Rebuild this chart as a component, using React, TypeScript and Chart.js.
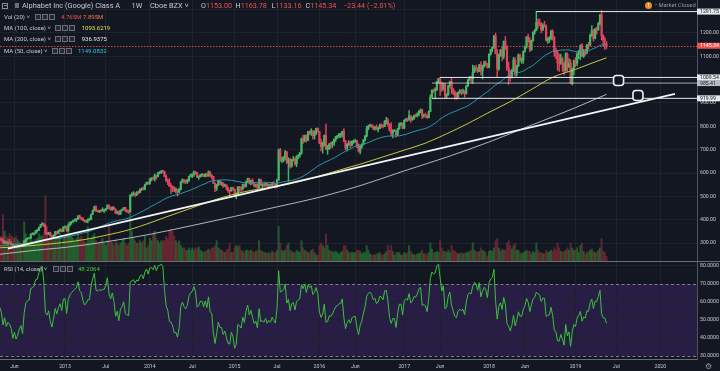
import React, { useEffect, useRef } from "react";
import { Chart, registerables } from "chart.js";

Chart.register(...registerables);

const FONT = "Roboto, 'Liberation Sans', Arial, sans-serif";
const BG = "#131722";
const GRID = "#1e222d";
const TEXT = "#c8cbd3";
const AXIS_LINE = "#50535e";
const SEP = "#6a6d78";
const UP = "#45b866";
const DOWN = "#e3455c";
const UP_VOL = "rgba(40, 135, 50, 0.6)";
const DOWN_VOL = "rgba(150, 45, 60, 0.6)";
const RED = "#ef5350";
const MA50_COLOR = "#2b9db0";
const MA100_COLOR = "#c8c93c";
const MA200_COLOR = "#b4b6bc";
const RSI_COLOR = "#3cc23c";

// ---- weekly bars, index 0 = week of 26 Mar 2012 ----
// closes of the 51 weeks before the first bar (warm-up for MA50 / RSI)
const preCloses = [289,265,263,272,267,265,262,260,262,255,242,237,253,265,299,309,301,289,282,245,263,262,262,273,263,257,258,296,295,300,298,304,297,281,310,314,312,317,323,325,312,293,290,298,303,303,305,311,312,313,321];

// [open, high, low, close]
const ohlc2012 = [
[321,325,317,320],[320,324,313,316],[316,319,308,312],[312,322,298,300],[300,309,297,307],
[307,309,296,298],[298,306,295,302],[302,316,299,300],[300,307,291,296],[296,298,283,285],
[285,291,280,290],[290,294,278,282],[282,292,281,285],[285,291,281,290],[290,297,287,293],
[293,294,283,285],[285,312,284,305],[305,318,300,317],[317,322,313,320],[320,323,317,321],
[321,339,320,338],[338,344,335,339],[339,344,334,342],[342,354,339,353],[353,358,346,354],
[354,368,353,367],[367,380,365,377],[377,387,376,383],[383,385,370,372],[372,379,338,341],
[341,346,335,338],[338,346,336,344],[344,347,330,331],[331,334,318,323],[323,335,321,334],
[334,350,332,349],[349,350,337,342],[342,355,341,352],[352,361,350,358],[358,360,347,350],
[350,370,349,369]];
const ohlc2013 = [
[369,372,364,370],[370,372,350,352],[352,378,350,377],[377,390,372,387],[387,393,380,392],
[392,398,388,396],[396,404,394,399],[399,405,392,403],[403,418,400,416],[416,420,406,407],
[407,411,399,405],[405,408,396,397],[397,400,389,392],[392,396,388,395],[395,404,386,400],
[400,407,396,400],[400,424,400,423],[423,441,422,440],[440,458,438,454],[454,460,434,437],
[437,441,433,436],[436,440,430,439],[439,442,432,438],[438,451,435,440],[440,443,431,440],
[440,449,438,447],[447,464,446,462],[462,464,445,448],[448,454,440,443],[443,456,440,453],
[453,456,443,445],[445,447,427,428],[428,437,425,435],[435,437,420,423],[423,441,423,440],
[440,446,437,444],[444,453,442,452],[452,453,435,438],[438,443,430,436],[436,441,427,435],
[435,506,432,505],[505,516,500,508],[508,520,504,512],[512,515,497,508],[508,520,503,517],
[517,523,510,516],[516,532,515,530],[530,537,525,534],[534,540,527,530],[530,552,528,550],
[550,561,549,560],[560,562,552,555]];
const ohlc2014 = [
[555,575,551,575],[575,580,566,577],[577,583,570,575],[575,596,565,590],[590,591,574,585],
[585,602,583,601],[601,606,596,604],[604,610,598,608],[608,613,600,606],[606,607,584,585],
[585,592,565,566],[566,575,550,560],[560,576,541,544],[544,555,511,543],[543,545,520,537],
[537,541,520,526],[526,536,515,527],[527,530,502,519],[519,535,515,530],[530,563,528,562],
[562,575,560,571],[571,573,555,565],[565,570,556,562],[562,573,555,568],[568,587,564,585],
[585,595,583,592],[592,596,580,594],[594,608,585,605],[605,607,594,600],[600,603,580,582],
[582,588,573,585],[585,594,582,592],[592,597,585,592],[592,595,584,586],[586,599,583,595],
[595,597,583,588],[588,609,586,605],[605,606,583,588],[588,593,575,585],[585,586,555,556],
[556,557,520,535],[535,551,525,549],[549,569,546,567],[567,570,550,557],[557,561,546,557],
[557,558,538,544],[544,553,542,549],[549,549,527,536],[536,540,517,524],[524,528,497,523],
[523,539,522,538],[538,540,526,530]];
const ohlc2015 = [
[530,532,500,505],[505,515,490,510],[510,542,506,540],[540,543,521,537],[537,541,521,533],
[533,552,526,551],[551,553,538,542],[542,565,540,563],[563,578,559,575],[575,578,553,559],
[559,569,549,568],[568,575,552,556],[556,558,540,545],[545,552,539,549],[549,555,534,537],
[537,575,534,573],[573,574,547,548],[548,555,535,550],[550,556,540,547],[547,558,543,554],
[554,556,541,545],[545,553,540,550],[550,553,538,547],[547,560,545,555],[555,563,548,550],
[550,552,535,546],[546,574,537,570],[570,703,568,699],[699,705,650,654],[654,668,644,657],
[657,671,648,664],[664,697,655,690],[690,693,640,645],[645,665,565,660],[660,663,621,629],
[629,658,625,655],[655,671,652,660],[660,664,632,640],[640,673,627,672],[672,679,660,676],
[676,689,667,685],[685,750,680,746],[746,762,727,737],[737,762,733,760],[760,763,732,740],
[740,779,740,778],[778,781,765,772],[772,790,761,780],[780,782,745,760],[760,781,745,770],
[770,792,764,791],[791,794,776,778]];
const ohlc2016 = [
[778,779,725,730],[730,745,695,714],[714,733,685,725],[725,763,715,761],[761,810,700,703],
[703,718,680,706],[706,726,700,725],[725,732,705,724],[724,735,710,731],[731,746,718,744],
[744,757,735,755],[755,762,748,758],[758,770,750,764],[764,771,752,764],[764,780,755,778],
[778,790,734,737],[737,740,700,707],[707,726,695,722],[722,739,717,730],[730,736,708,721],
[721,738,716,735],[735,741,727,737],[737,745,731,738],[738,740,709,712],[712,725,689,694],
[694,718,682,714],[714,725,705,723],[723,743,720,742],[742,760,737,759],[759,800,755,791],
[791,805,785,801],[801,810,797,805],[805,808,795,801],[801,804,786,792],[792,800,784,796],
[796,806,785,787],[787,797,776,791],[791,810,790,805],[805,811,795,804],[804,806,793,800],
[800,825,799,822],[822,839,810,823],[823,834,800,809],[809,812,780,782],[782,816,760,771],
[771,786,750,780],[780,786,778,780],[780,782,754,764],[764,792,761,790],[790,815,787,810],
[810,816,803,810],[810,815,790,792]];
const ohlc2017 = [
[792,828,790,826],[826,834,822,830],[830,835,820,828],[828,867,825,845],[845,846,817,830],
[830,840,825,835],[835,848,830,846],[846,853,840,845],[845,858,840,852],[852,866,845,865],
[865,875,858,870],[870,874,833,845],[845,853,838,847],[847,857,839,845],[845,849,834,837],
[837,866,836,863],[863,935,862,925],[925,956,923,955],[955,960,945,952],[952,965,918,957],
[957,994,953,993],[993,1006,985,1004],[1004,1009.54,932,983],[983,990,950,960],[960,985,955,980],
[980,984,922,930],[930,940,920,935],[935,975,933,975],[975,994,968,992],[992,1006,940,960],
[960,962,936,945],[945,952,916,930],[930,945,915,926],[926,948,922,945],[945,958,941,951],
[951,957,935,948],[948,960,940,952],[952,953,925,940],[940,975,938,973],[973,1000,970,1000],
[1000,1014,995,1007],[1007,1015,986,1005],[1005,1063,984,1033],[1033,1058,1030,1048],[1048,1062,1038,1046],
[1046,1052,1030,1035],[1035,1066,1035,1063],[1063,1076,1020,1037],[1037,1062,1003,1057],[1057,1080,1052,1072],
[1072,1080,1060,1068],[1068,1070,1050,1053]];
const ohlc2018 = [
[1053,1110,1050,1110],[1110,1130,1105,1130],[1130,1140,1120,1138],[1138,1190,1135,1187],[1187,1199,1110,1112],
[1112,1130,1010,1047],[1047,1110,1040,1106],[1106,1130,1100,1125],[1125,1140,1080,1100],[1100,1165,1090,1165],
[1165,1185,1130,1140],[1140,1145,1040,1050],[1050,1075,980,1037],[1037,1040,995,1010],[1010,1045,1008,1036],
[1036,1095,1035,1085],[1085,1095,1015,1030],[1030,1062,1015,1060],[1060,1110,1055,1105],[1105,1110,1078,1083],
[1083,1093,1070,1084],[1084,1123,1070,1120],[1120,1145,1118,1140],[1140,1185,1135,1183],[1183,1195,1160,1168],
[1168,1180,1120,1130],[1130,1170,1125,1168],[1168,1205,1165,1204],[1204,1215,1195,1212],[1212,1291.75,1210,1246],
[1246,1260,1220,1240],[1240,1260,1230,1236],[1236,1245,1200,1215],[1215,1240,1210,1232],[1232,1250,1225,1231],
[1231,1235,1165,1170],[1170,1180,1155,1175],[1175,1185,1160,1177],[1177,1212,1170,1207],[1207,1214,1170,1180],
[1180,1185,1100,1120],[1120,1135,1090,1115],[1115,1125,1040,1071],[1071,1110,1035,1070],[1070,1110,1065,1090],
[1090,1095,1035,1070],[1070,1075,1020,1040],[1040,1115,1035,1110],[1110,1115,1035,1055],[1055,1090,1050,1070],
[1070,1085,985,985],[985,1050,977,1046],[1046,1085,1020,1080]];
const ohlc2019 = [
[1080,1095,1055,1070],[1070,1115,1060,1110],[1110,1125,1090,1125],[1125,1150,1085,1145],[1145,1155,1100,1100],
[1100,1130,1095,1120],[1120,1130,1105,1116],[1116,1150,1110,1150],[1150,1160,1130,1148],[1148,1195,1145,1190],
[1190,1232,1185,1210],[1210,1215,1165,1176],[1176,1220,1175,1215],[1215,1225,1195,1213],[1213,1245,1212,1240],
[1240,1280,1235,1277],[1277,1296,1170,1189],[1189,1192,1142,1170],[1170,1180,1130,1168.78],[1153,1163.78,1133.16,1145.34]];

// weekly volume, millions
const vol2012 = [18,20,22,40,26,22,20,24,22,21,20,22,19,17,15,18,34,24,18,17,20,18,16,19,20,24,22,22,24,56,30,20,24,22,18,22,20,22,24,14,20];
const vol2013 = [22,24,34,24,22,20,18,20,24,20,22,18,18,16,30,18,20,22,24,18,16,16,18,20,16,14,18,30,18,16,14,18,16,14,16,18,20,16,14,16,46,26,20,18,16,16,18,16,18,22,12,14];
const vol2014 = [20,18,24,26,20,18,16,18,18,18,22,20,26,28,26,22,18,16,18,14,12,12,10,10,12,10,12,10,12,11,13,10,9,8,9,10,11,10,12,12,14,18,12,11,10,9,8,10,11,16,8,8];
const vol2015 = [12,14,13,14,10,9,8,10,10,9,10,9,8,9,10,18,10,9,8,8,7,8,7,9,8,8,10,30,16,10,9,10,14,16,10,9,8,8,10,9,8,18,12,10,9,8,8,10,11,8,6,6];
const vol2016 = [14,16,14,12,24,14,10,9,9,8,9,8,7,8,9,14,14,10,8,8,8,8,8,10,10,9,7,8,8,14,10,7,6,6,6,7,7,8,6,6,7,9,14,10,14,9,6,8,8,8,6,6];
const vol2017 = [8,7,8,14,9,7,6,6,7,7,8,10,7,7,6,8,16,11,8,8,9,8,18,12,9,9,8,10,8,14,10,9,8,7,7,8,7,7,8,8,9,10,16,10,9,8,9,12,10,9,8,5];
const vol2018 = [9,10,9,12,18,20,12,9,11,10,10,16,18,14,11,14,16,10,10,8,7,8,9,10,9,9,7,9,8,16,10,8,8,7,7,10,8,9,10,9,12,10,16,12,9,8,9,10,12,10,16,12,10];
const vol2019 = [10,12,8,14,16,9,6,8,9,10,11,9,8,8,10,12,20,9,8,4.765];

// moving averages 100 / 200 (week index, value)
const ma100Idx = [0,14,27,41,54,66,80,93,106,119,132,145,158,171,184,197,210,223,236,249,262,275,288,301,314,327,340,354,366,373];
const ma100Val = [279,285,293,303,316,333,356,386,419,451,483,510,529,543,562,587,614,640,669,698,728,768,812,860,906,958,1010,1044,1076,1093.62];
const ma200Idx = [0,14,27,41,66,93,119,145,171,197,223,249,275,301,327,354,366,373];
const ma200Val = [251,262,272,281,305,337,375,414,455,496,548,609,668,733,805,880,916,936.94];

// drawings
const trendLine = [{ x: 6, y: 276 }, { x: 415, y: 939 }];
const rayStarts = [330, 271, 266, 266];
const rayPrices = [1291.75, 1009.54, 985.41, 919.99];
const handlePoints = [{ x: 380.4, y: 996.4 }, { x: 392.3, y: 932 }];

// axes
const xTickIndex = [10,41,66,93,119,145,171,197,219,249,271,301,323,354,379,406];
const xTickLabels = ["Jun","2013","Jul","2014","Jul","2015","Jul","2016","Jun","2017","Jun","2018","Jun","2019","Jul","2020"];
const priceTicks = [300,400,500,600,700,800,900,1000,1100,1200,1300];
const hiddenPriceLabels = [1000,1300];
const rsiTicks = [30,40,50,60,70,80];
const lastClose = 1145.34;

const X_MIN = 1.15, X_MAX = 428.5;
const P_MIN = 218.6, P_MAX = 1341.4;
const R_MIN = 28.33, R_MAX = 82.22;
const VOL_MAX = 222;

function rsiCalc(values: number[], n: number): (number | null)[] {
  const out: (number | null)[] = values.map(() => null);
  let up = 0, dn = 0;
  for (let i = 1; i <= n; i++) {
    const d = values[i] - values[i - 1];
    up += Math.max(d, 0); dn += Math.max(-d, 0);
  }
  up /= n; dn /= n;
  out[n] = dn === 0 ? 100 : 100 - 100 / (1 + up / dn);
  for (let i = n + 1; i < values.length; i++) {
    const d = values[i] - values[i - 1];
    up = (up * (n - 1) + Math.max(d, 0)) / n;
    dn = (dn * (n - 1) + Math.max(-d, 0)) / n;
    out[i] = dn === 0 ? 100 : 100 - 100 / (1 + up / dn);
  }
  return out;
}

const noPad = (s: any) => { s.paddingTop = 0; s.paddingBottom = 0; s.paddingLeft = 0; s.paddingRight = 0; };

export default function App() {
  const topRef = useRef<HTMLCanvasElement>(null);
  const botRef = useRef<HTMLCanvasElement>(null);

  useEffect(() => {
    const bars = [...ohlc2012, ...ohlc2013, ...ohlc2014, ...ohlc2015, ...ohlc2016, ...ohlc2017, ...ohlc2018, ...ohlc2019];
    const vols = [...vol2012, ...vol2013, ...vol2014, ...vol2015, ...vol2016, ...vol2017, ...vol2018, ...vol2019];
    const PRE = preCloses.length;
    const closes = [...preCloses, ...bars.map((b) => b[3])];

    const wickData = bars.map((b, i) => ({ x: i, y: [b[2], b[1]] }));
    const bodyData = bars.map((b, i) => ({ x: i, y: [b[0], b[3]] }));
    const colors = bars.map((b) => (b[3] >= b[0] ? UP : DOWN));
    const volData = vols.map((v, i) => ({ x: i, y: v }));
    const volColors = bars.map((b) => (b[3] >= b[0] ? UP_VOL : DOWN_VOL));
    const ma50 = bars.map((_, i) => {
      const k = i + PRE;
      let s = 0;
      for (let j = k - 49; j <= k; j++) s += closes[j];
      return { x: i, y: s / 50 };
    });
    const ma100 = ma100Idx.map((x, i) => ({ x, y: ma100Val[i] }));
    const ma200 = ma200Idx.map((x, i) => ({ x, y: ma200Val[i] }));
    const rsiAll = rsiCalc(closes, 14);
    const rsiData = bars.map((_, i) => ({ x: i, y: rsiAll[i + PRE] }));

    const rayData = rayStarts.map((s, i) => ({
      type: "line" as const,
      data: [{ x: s, y: rayPrices[i] }, { x: X_MAX + 20, y: rayPrices[i] }],
      borderColor: i === 2 ? "rgba(220,222,228,0.75)" : "#e8e9ee",
      borderWidth: 1,
      pointRadius: 0,
      order: 0,
    }));

    const axisMarks = [
      { v: 1291.75, bg: "#e6e7eb", fg: "#131722" },
      { v: lastClose, bg: RED, fg: "#ffffff" },
      { v: 1009.54, bg: "#e6e7eb", fg: "#131722" },
      { v: 985.41, bg: "#b9bbc2", fg: "#131722" },
      { v: 919.99, bg: "#e6e7eb", fg: "#131722" },
    ];

    const topPlugin = {
      id: "topOverlay",
      afterDatasetsDraw(chart: any) {
        const { ctx, chartArea: a, scales } = chart;
        const x = scales.x, y = scales.y;
        ctx.save();
        const py = Math.round(y.getPixelForValue(lastClose)) + 0.5;
        ctx.strokeStyle = "rgba(239,83,80,0.85)";
        ctx.lineWidth = 1;
        ctx.setLineDash([1.5, 1.5]);
        ctx.beginPath(); ctx.moveTo(a.left, py); ctx.lineTo(a.right, py); ctx.stroke();
        ctx.setLineDash([]);
        for (const h of handlePoints) {
          const hx = x.getPixelForValue(h.x), hy = y.getPixelForValue(h.y);
          ctx.beginPath();
          ctx.roundRect(hx - 5, hy - 5, 10, 10, 3);
          ctx.fillStyle = BG; ctx.fill();
          ctx.strokeStyle = "#f0f0f0"; ctx.lineWidth = 1.6; ctx.stroke();
        }
        ctx.strokeStyle = SEP; ctx.lineWidth = 1;
        ctx.beginPath(); ctx.moveTo(0, a.bottom - 0.5); ctx.lineTo(chart.width, a.bottom - 0.5); ctx.stroke();
        ctx.restore();
      },
      afterDraw(chart: any) {
        const { ctx, chartArea: a, scales } = chart;
        const y = scales.y;
        ctx.save();
        ctx.font = `5.2px ${FONT}`;
        ctx.textBaseline = "middle";
        ctx.textAlign = "left";
        for (const m of axisMarks) {
          const by = y.getPixelForValue(m.v);
          ctx.fillStyle = m.bg;
          ctx.fillRect(a.right, by - 3, chart.width - a.right, 6);
          ctx.fillStyle = m.fg;
          ctx.fillText(m.v.toFixed(2), a.right + 3, by + 0.3);
        }
        ctx.restore();
      },
    };

    const xCommon = {
      type: "linear" as const,
      min: X_MIN,
      max: X_MAX,
      offset: false,
      grid: { color: GRID, drawTicks: false, offset: false },
      afterBuildTicks: (s: any) => { s.ticks = xTickIndex.map((v) => ({ value: v })); },
    };

    const top = new Chart(topRef.current as HTMLCanvasElement, {
      type: "bar",
      data: {
        datasets: [
          { type: "bar", data: volData as any, yAxisID: "yv", backgroundColor: volColors, barThickness: 1.3, grouped: false, order: 10 } as any,
          { type: "bar", data: wickData as any, yAxisID: "y", backgroundColor: colors, barThickness: 0.8, grouped: false, order: 7 } as any,
          { type: "bar", data: bodyData as any, yAxisID: "y", backgroundColor: colors, barThickness: 1.5, grouped: false, minBarLength: 0.8, order: 6 } as any,
          { type: "line", data: ma200, yAxisID: "y", borderColor: MA200_COLOR, borderWidth: 1, pointRadius: 0, cubicInterpolationMode: "monotone", order: 4 } as any,
          { type: "line", data: ma100, yAxisID: "y", borderColor: MA100_COLOR, borderWidth: 1, pointRadius: 0, cubicInterpolationMode: "monotone", order: 3 } as any,
          { type: "line", data: ma50, yAxisID: "y", borderColor: MA50_COLOR, borderWidth: 1, pointRadius: 0, order: 2 } as any,
          { type: "line", data: trendLine, yAxisID: "y", borderColor: "#f4f4f6", borderWidth: 1.6, pointRadius: 0, order: 1 } as any,
          ...(rayData as any[]),
        ],
      },
      options: {
        responsive: false,
        animation: false,
        events: [],
        layout: { padding: 0 },
        plugins: { legend: { display: false }, tooltip: { enabled: false } },
        scales: {
          x: { ...xCommon, ticks: { display: false }, border: { display: false }, afterFit: (s: any) => { s.height = 0; noPad(s); } } as any,
          y: {
            type: "linear",
            position: "right",
            min: P_MIN,
            max: P_MAX,
            grid: { color: GRID, drawTicks: false },
            border: { display: true, color: AXIS_LINE },
            ticks: {
              color: TEXT,
              font: { size: 5.2, family: FONT },
              padding: 3,
              callback: (v: any) => (hiddenPriceLabels.includes(v) ? "" : Number(v).toFixed(2)),
            },
            afterBuildTicks: (s: any) => { s.ticks = priceTicks.map((v) => ({ value: v })); },
            afterFit: (s: any) => { s.width = 23; noPad(s); },
          } as any,
          yv: { type: "linear", display: false, min: 0, max: VOL_MAX } as any,
        },
      },
      plugins: [topPlugin],
    });

    const rsiPlugin = {
      id: "rsiBand",
      beforeDraw(chart: any) {
        const { ctx, chartArea: a, scales } = chart;
        const y = scales.y;
        const y70 = y.getPixelForValue(70), y30 = y.getPixelForValue(30);
        ctx.save();
        ctx.fillStyle = "#271d45";
        ctx.fillRect(a.left, y70, a.right - a.left, y30 - y70);
        ctx.restore();
      },
      beforeDatasetsDraw(chart: any) {
        const { ctx, chartArea: a, scales } = chart;
        const y = scales.y;
        ctx.save();
        ctx.strokeStyle = "#7c7f8a";
        ctx.lineWidth = 1;
        ctx.setLineDash([3, 2.5]);
        for (const v of [70, 30]) {
          const py = Math.round(y.getPixelForValue(v)) + 0.5;
          ctx.beginPath(); ctx.moveTo(a.left, py); ctx.lineTo(a.right, py); ctx.stroke();
        }
        ctx.restore();
      },
    };

    const bot = new Chart(botRef.current as HTMLCanvasElement, {
      type: "line",
      data: {
        datasets: [
          { data: rsiData as any, borderColor: RSI_COLOR, borderWidth: 1, pointRadius: 0, tension: 0 },
        ],
      },
      options: {
        responsive: false,
        animation: false,
        events: [],
        layout: { padding: 0 },
        plugins: { legend: { display: false }, tooltip: { enabled: false } },
        scales: {
          x: {
            ...xCommon,
            border: { display: true, color: SEP },
            ticks: {
              color: TEXT,
              font: { size: 5.2, family: FONT },
              padding: 5,
              maxRotation: 0,
              autoSkip: false,
              callback: (v: any) => {
                const k = xTickIndex.indexOf(Number(v));
                return k >= 0 ? xTickLabels[k] : "";
              },
            },
            afterFit: (s: any) => { s.height = 12; noPad(s); },
          } as any,
          y: {
            type: "linear",
            position: "right",
            min: R_MIN,
            max: R_MAX,
            grid: {
              color: (c: any) => (c.tick && (c.tick.value === 70 || c.tick.value === 30) ? "rgba(0,0,0,0)" : GRID),
              drawTicks: false,
            },
            border: { display: true, color: AXIS_LINE },
            ticks: {
              color: TEXT,
              font: { size: 5.2, family: FONT },
              padding: 3,
              callback: (v: any) => Number(v).toFixed(4),
            },
            afterBuildTicks: (s: any) => { s.ticks = rsiTicks.map((v) => ({ value: v })); },
            afterFit: (s: any) => { s.width = 23; noPad(s); },
          } as any,
        },
      },
      plugins: [rsiPlugin],
    });

    return () => {
      top.destroy();
      bot.destroy();
    };
  }, []);

  const T = (p: { x: number; y: number; size?: number; color?: string; children: React.ReactNode }) => (
    <span
      style={{
        position: "absolute",
        left: p.x,
        top: p.y,
        fontSize: p.size ?? 6,
        color: p.color ?? TEXT,
        lineHeight: 1,
        whiteSpace: "nowrap",
        transform: "translateY(-50%)",
      }}
    >
      {p.children}
    </span>
  );
  const Boxes = (p: { x: number; y: number }) => (
    <span style={{ position: "absolute", left: p.x, top: p.y - 3, display: "flex", gap: 1 }}>
      {[0, 1, 2].map((i) => (
        <span key={i} style={{ width: 6, height: 6, border: "1px solid #6b6e78", boxSizing: "border-box", background: "#242833" }} />
      ))}
    </span>
  );

  return (
    <div style={{ position: "absolute", left: 0, top: 0, width: 720, height: 371, background: BG, overflow: "hidden", fontFamily: FONT }}>
      <canvas ref={topRef} width={720} height={262} style={{ position: "absolute", left: 0, top: 0, width: 720, height: 262 }} />
      <canvas ref={botRef} width={720} height={109} style={{ position: "absolute", left: 0, top: 262, width: 720, height: 109 }} />

      {/* header row */}
      <span style={{ position: "absolute", left: 2, top: 2.5, width: 6, height: 6, border: "1px solid #8a8d96", boxSizing: "border-box" }} />
      <span style={{ position: "absolute", left: 3.5, top: 5, width: 3, height: 1, background: "#8a8d96" }} />
      <span style={{ position: "absolute", left: 15, top: 3, width: 3.5, height: 5, background: "#6b6e78" }} />
      <T x={22} y={5.7} size={7.4}>Alphabet Inc (Google) Class A</T>
      <T x={131.5} y={5.7} size={7.4}>1W</T>
      <T x={150} y={5.7} size={7.4}>Cboe BZX ˅</T>
      <T x={201} y={5.7} size={7.2}>O<span style={{ color: RED }}>1153.00</span></T>
      <T x={235.5} y={5.7} size={7.2}>H<span style={{ color: RED }}>1163.78</span></T>
      <T x={271.5} y={5.7} size={7.2}>L<span style={{ color: RED }}>1133.16</span></T>
      <T x={305.5} y={5.7} size={7.2}>C<span style={{ color: RED }}>1145.34</span></T>
      <T x={343} y={5.7} size={7.2} color={RED}>−23.44 (−2.01%)</T>

      <T x={4} y={16.7}>Vol (20) ˅</T>
      <Boxes x={35} y={16.7} />
      <T x={61} y={16.7} color={RED}>4.765M</T>
      <T x={83} y={16.7} color="#f57c3a">7.895M</T>

      <T x={4} y={28}>MA (100, close) ˅</T>
      <Boxes x={55} y={28} />
      <T x={81.7} y={28} color="#e3e34a">1093.6219</T>

      <T x={4} y={39.3}>MA (200, close) ˅</T>
      <Boxes x={55} y={39.3} />
      <T x={81.7} y={39.3} color="#e6e7eb">936.9375</T>

      <T x={4} y={50.7}>MA (50, close) ˅</T>
      <Boxes x={51.7} y={50.7} />
      <T x={78} y={50.7} color="#2fc6dc">1149.0832</T>

      <T x={4} y={269}>RSI (14, close) ˅</T>
      <Boxes x={53} y={269} />
      <T x={78} y={269} color="#3fd13f">48.2064</T>

      {/* market status */}
      <span style={{ position: "absolute", left: 645, top: 2, width: 7, height: 7, borderRadius: 4, background: "#f5871f", color: "#fff", fontSize: 5.5, lineHeight: "7px", textAlign: "center", fontWeight: 700 }}>!</span>
      <T x={655} y={5.7} size={5.8} color="#9598a1">• Market Closed</T>

      <T x={705} y={366.5} size={8} color="#9598a1">⚙</T>
    </div>
  );
}
